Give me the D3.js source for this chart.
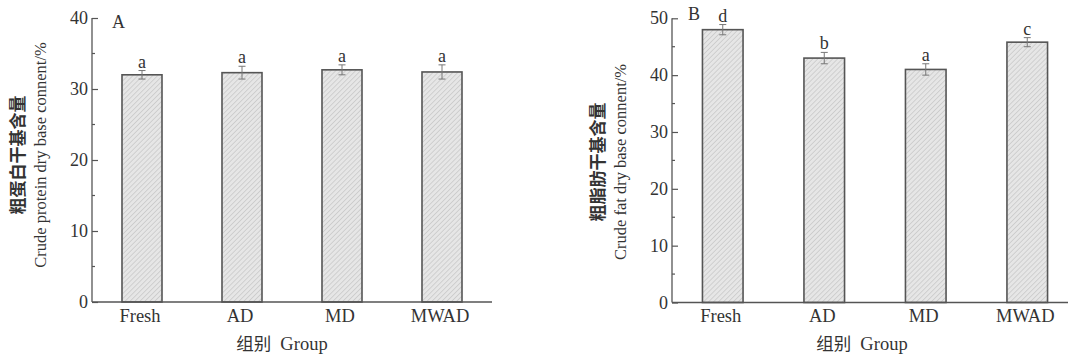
<!DOCTYPE html>
<html><head><meta charset="utf-8">
<script src="https://cdn.jsdelivr.net/npm/d3@7"></script>
<style>
body{margin:0;background:#fff;}
svg{display:block;}
text{font-family:"Liberation Serif","Times New Roman",serif;fill:#333;}
.cn{font-family:"Noto Sans CJK SC","Noto Sans CJK JP",sans-serif;}
</style></head>
<body>
<svg id="c" width="1068" height="358"></svg>
<script>
const groups = ["Fresh","AD","MD","MWAD"];
const proteinVals = [32.0, 32.3, 32.7, 32.4];
const proteinErr  = [0.6, 0.9, 0.7, 1.0];
const proteinSig  = ["a","a","a","a"];
const fatVals = [48.0, 43.0, 41.0, 45.8];
const fatErr  = [0.9, 1.0, 1.0, 0.8];
const fatSig  = ["d","b","a","c"];
const proteinTicks = [0,10,20,30,40];
const fatTicks = [0,10,20,30,40,50];

const svg = d3.select("#c");
const defs = svg.append("defs");
const pat = defs.append("pattern").attr("id","hatch").attr("patternUnits","userSpaceOnUse")
  .attr("width",3.5).attr("height",3.5).attr("patternTransform","rotate(45)");
pat.append("rect").attr("width",3.5).attr("height",3.5).attr("fill","#e6e6e6");
pat.append("line").attr("x1",0).attr("y1",0).attr("x2",0).attr("y2",3.5).attr("stroke","#bdbdbd").attr("stroke-width",1.1);

function panel(o){
  const g = svg.append("g");
  const x = d3.scaleBand().domain(groups).range([o.x0,o.x1]).paddingInner(0.6).paddingOuter(0.3);
  const y = d3.scaleLinear().domain([0,o.max]).range([o.yb,o.yt]);
  const ax = g.append("g").attr("transform",`translate(${o.x0},0)`)
    .call(d3.axisRight(y).tickValues(o.ticks).tickSize(6).tickFormat(""));
  ax.select(".domain").remove();
  ax.selectAll("line").attr("stroke","#555").attr("stroke-width",1.2);
  const minor = d3.range(5,o.max,10);
  g.selectAll(".mn").data(minor).join("line")
    .attr("x1",o.x0).attr("x2",o.x0+3).attr("y1",d=>y(d)).attr("y2",d=>y(d))
    .attr("stroke","#555").attr("stroke-width",1.2);
  g.append("line").attr("x1",o.x0).attr("x2",o.x0).attr("y1",y(0)).attr("y2",y(o.max)).attr("stroke","#555").attr("stroke-width",1.3);
  g.selectAll(".tl").data(o.ticks).join("text")
    .attr("x",o.x0-4).attr("y",d=>y(d)+6).attr("text-anchor","end").attr("font-size",18).text(d=>d);
  g.selectAll(".bar").data(groups).join("rect")
    .attr("x",d=>x(d)).attr("width",x.bandwidth())
    .attr("y",(d,i)=>y(o.vals[i])).attr("height",(d,i)=>y(0)-y(o.vals[i]))
    .attr("fill","url(#hatch)").attr("stroke","#555").attr("stroke-width",1.6);
  g.append("line").attr("x1",o.x0).attr("x2",o.x1).attr("y1",y(0)).attr("y2",y(0)).attr("stroke","#555").attr("stroke-width",1.3);
  g.selectAll(".xl").data(groups).join("text")
    .attr("x",d=>x(d)+x.bandwidth()/2-2).attr("y",322).attr("text-anchor","middle").attr("font-size",18.5).text(d=>d);
  groups.forEach((d,i)=>{
    const cx = x(d)+x.bandwidth()/2;
    const hi = y(o.vals[i]+o.err[i]), lo = y(o.vals[i]-o.err[i]);
    g.append("line").attr("x1",cx).attr("x2",cx).attr("y1",hi).attr("y2",lo).attr("stroke","#777").attr("stroke-width",1);
    [hi,lo].forEach(v=>g.append("line").attr("x1",cx-3.5).attr("x2",cx+3.5).attr("y1",v).attr("y2",v).attr("stroke","#777").attr("stroke-width",1));
    g.append("text").attr("x",cx).attr("y",hi-3).attr("text-anchor","middle").attr("font-size",18).text(o.sig[i]);
  });
  g.append("text").attr("x",o.lx).attr("y",o.ly).attr("font-size",18).text(o.letter);
  g.append("text").attr("class","cn").attr("transform",`translate(${o.ytx1},${o.ytc}) rotate(-90)`)
    .attr("text-anchor","middle").attr("font-size",17).attr("font-weight","bold").text(o.ycn);
  g.append("text").attr("transform",`translate(${o.ytx2},${o.ytc}) rotate(-90)`)
    .attr("text-anchor","middle").attr("font-size",16.5).text(o.yen);
  const xt = g.append("text").attr("x",o.xtc).attr("y",350).attr("text-anchor","middle").attr("font-size",18.5);
  xt.append("tspan").attr("class","cn").attr("font-size",17.5).text("组别");
  xt.append("tspan").attr("dx",9).text("Group");
}

panel({x0:92,x1:492,yb:302,yt:18,max:40,ticks:proteinTicks,vals:proteinVals,err:proteinErr,sig:proteinSig,
  letter:"A",lx:112,ly:28,ycn:"粗蛋白干基含量",yen:"Crude protein dry base connent/%",ytx1:24,ytx2:46,ytc:155,xtc:282});
panel({x0:672,x1:1078,yb:302.5,yt:18.3,max:50,ticks:fatTicks,vals:fatVals,err:fatErr,sig:fatSig,
  letter:"B",lx:688,ly:20,ycn:"粗脂肪干基含量",yen:"Crude fat dry base connent/%",ytx1:604,ytx2:626,ytc:162,xtc:862});
</script>
</body></html>
